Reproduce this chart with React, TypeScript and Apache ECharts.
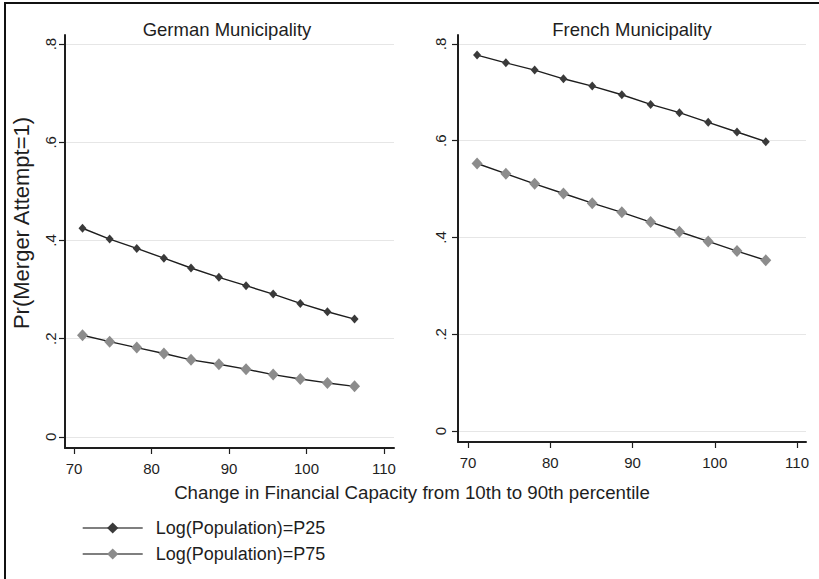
import React, { useEffect, useRef } from "react";
import * as echarts from "echarts";

const xValues = [71.1, 74.6, 78.1, 81.6, 85.1, 88.7, 92.2, 95.7, 99.2, 102.7, 106.2];
const germanP25 = [0.425, 0.403, 0.384, 0.364, 0.344, 0.325, 0.308, 0.291, 0.272, 0.255, 0.24];
const germanP75 = [0.207, 0.194, 0.182, 0.17, 0.157, 0.148, 0.138, 0.127, 0.118, 0.11, 0.103];
const frenchP25 = [0.777, 0.761, 0.746, 0.728, 0.713, 0.695, 0.675, 0.658, 0.638, 0.618, 0.598];
const frenchP75 = [0.553, 0.532, 0.511, 0.491, 0.471, 0.452, 0.432, 0.412, 0.392, 0.372, 0.353];
const xTicks = [70, 80, 90, 100, 110];
const yTicks = [0, 0.2, 0.4, 0.6, 0.8];
const panelTitles = ["German Municipality", "French Municipality"];
const seriesNames = ["Log(Population)=P25", "Log(Population)=P75"];
const xTitle = "Change in Financial Capacity from 10th to 90th percentile";
const yTitle = "Pr(Merger Attempt=1)";

const FONT = "'Liberation Sans', Arial, Helvetica, sans-serif";
const INK = "#1e1e1e";

function yLabel(v: number): string {
  if (Math.abs(v) < 1e-9) return "0";
  return String(Math.round(v * 10) / 10).replace(/^0\./, ".");
}

function makeX(gridIndex: number, min: number, max: number) {
  return {
    type: "value",
    gridIndex,
    min,
    max,
    axisLine: { show: true, onZero: false, lineStyle: { color: INK, width: 2 } },
    axisTick: { show: true, length: 6, customValues: xTicks, lineStyle: { color: INK, width: 1.2 } },
    axisLabel: { customValues: xTicks, margin: 13, fontSize: 15, color: INK, fontFamily: FONT },
    splitLine: { show: false },
  };
}

function makeY(gridIndex: number, margin: number) {
  return {
    type: "value",
    gridIndex,
    min: -0.0225,
    max: 0.8185,
    axisLine: { show: true, onZero: false, lineStyle: { color: INK, width: 2 } },
    axisTick: { show: true, length: 6, customValues: yTicks, lineStyle: { color: INK, width: 1.2 } },
    axisLabel: {
      customValues: yTicks,
      rotate: 90,
      margin,
      fontSize: 15,
      color: INK,
      fontFamily: FONT,
      formatter: (v: number) => yLabel(v),
    },
    splitLine: { show: true, lineStyle: { color: "#e6e6e6", width: 1 } },
  };
}

function pairs(arr: number[]) {
  return xValues.map((x, i) => [x, arr[i]]);
}

function makeSeries(idx: number, name: string, data: number[], big: boolean) {
  return {
    type: "line",
    name,
    xAxisIndex: idx,
    yAxisIndex: idx,
    data: pairs(data),
    symbol: "diamond",
    symbolSize: big ? [11, 12] : [8, 9],
    showSymbol: true,
    itemStyle: { color: big ? "#8c8c8c" : "#3a3a3a" },
    lineStyle: { color: INK, width: 1.4 },
    silent: true,
  };
}

export default function App() {
  const ref = useRef<HTMLDivElement>(null);
  useEffect(() => {
    if (!ref.current) return;
    const chart = echarts.init(ref.current, undefined, { renderer: "svg" });
    chart.setOption({
      animation: false,
      backgroundColor: "#ffffff",
      grid: [
        { left: 65, top: 35, width: 329, height: 413 },
        { left: 458, top: 35, width: 348, height: 407 },
      ],
      xAxis: [makeX(0, 68.84, 111.29), makeX(1, 68.78, 111.09)],
      yAxis: [makeY(0, 7), makeY(1, 10)],
      legend: {
        data: seriesNames,
        orient: "vertical",
        left: 77,
        top: 514,
        itemWidth: 60,
        itemHeight: 14,
        itemGap: 8,
        lineStyle: { color: "#555555", width: 1.4 },
        textStyle: { fontSize: 18, fontFamily: FONT, color: INK, padding: [0, 0, 0, 8], lineHeight: 18 },
        selectedMode: false,
      },
      series: [
        makeSeries(0, seriesNames[0], germanP25, false),
        makeSeries(0, seriesNames[1], germanP75, true),
        makeSeries(1, seriesNames[0], frenchP25, false),
        makeSeries(1, seriesNames[1], frenchP75, true),
      ],
      graphic: [
        { type: "line", shape: { x1: 5, y1: 3, x2: 5, y2: 579 }, style: { stroke: "#111", lineWidth: 2 } },
        { type: "line", shape: { x1: 4, y1: 3, x2: 819, y2: 3 }, style: { stroke: "#111", lineWidth: 2 } },
        {
          type: "text",
          x: 227,
          y: 29,
          style: { text: panelTitles[0], fontSize: 18.5, fontFamily: FONT, fill: INK, textAlign: "center", textVerticalAlign: "middle" },
        },
        {
          type: "text",
          x: 632,
          y: 29,
          style: { text: panelTitles[1], fontSize: 18.5, fontFamily: FONT, fill: INK, textAlign: "center", textVerticalAlign: "middle" },
        },
        {
          type: "text",
          x: 412,
          y: 492,
          style: { text: xTitle, fontSize: 18.7, fontFamily: FONT, fill: INK, textAlign: "center", textVerticalAlign: "middle" },
        },
        {
          type: "text",
          x: 21,
          y: 223,
          rotation: Math.PI / 2,
          style: { text: yTitle, fontSize: 22, fontFamily: FONT, fill: INK, textAlign: "center", textVerticalAlign: "middle" },
        },
      ],
    });
    return () => chart.dispose();
  }, []);
  return (
    <div
      ref={ref}
      style={{ position: "fixed", left: 0, top: 0, width: 819, height: 579, background: "#fff" }}
    />
  );
}
